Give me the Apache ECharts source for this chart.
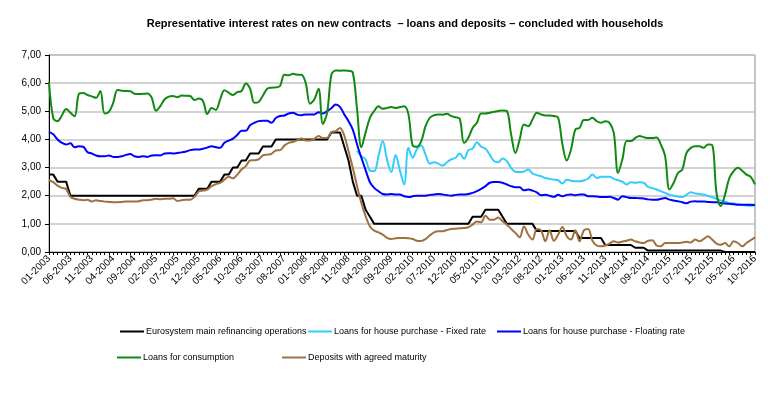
<!DOCTYPE html>
<html>
<head>
  <meta charset="utf-8">
  <title>Interest rates</title>
  <script src="https://cdn.jsdelivr.net/npm/echarts@6/dist/echarts.min.js"></script>
  <style>
    body { margin: 0; background: #fff; }
    #main { width: 775px; height: 399px; }
  </style>
</head>
<body>
  <div id="main"></div>
  <script>
    // monthly, 01-2003 .. 10-2016
    var months = [];
    for (var y = 2003; y <= 2016; y++) {
      for (var m = 1; m <= 12; m++) {
        if (y === 2016 && m > 10) break;
        months.push((m < 10 ? '0' + m : '' + m) + '-' + y);
      }
    }

    var mro = [
      2.75, 2.75, 2.50, 2.50, 2.50, 2.00, 2.00, 2.00, 2.00, 2.00, 2.00, 2.00,
      2.00, 2.00, 2.00, 2.00, 2.00, 2.00, 2.00, 2.00, 2.00, 2.00, 2.00, 2.00,
      2.00, 2.00, 2.00, 2.00, 2.00, 2.00, 2.00, 2.00, 2.00, 2.00, 2.00, 2.25,
      2.25, 2.25, 2.50, 2.50, 2.50, 2.75, 2.75, 3.00, 3.00, 3.25, 3.25, 3.50,
      3.50, 3.50, 3.75, 3.75, 3.75, 4.00, 4.00, 4.00, 4.00, 4.00, 4.00, 4.00,
      4.00, 4.00, 4.00, 4.00, 4.00, 4.00, 4.25, 4.25, 4.25, 3.75, 3.25, 2.50,
      2.00, 2.00, 1.50, 1.25, 1.00, 1.00, 1.00, 1.00, 1.00, 1.00, 1.00, 1.00,
      1.00, 1.00, 1.00, 1.00, 1.00, 1.00, 1.00, 1.00, 1.00, 1.00, 1.00, 1.00,
      1.00, 1.00, 1.00, 1.25, 1.25, 1.25, 1.50, 1.50, 1.50, 1.50, 1.25, 1.00,
      1.00, 1.00, 1.00, 1.00, 1.00, 1.00, 0.75, 0.75, 0.75, 0.75, 0.75, 0.75,
      0.75, 0.75, 0.75, 0.75, 0.50, 0.50, 0.50, 0.50, 0.50, 0.50, 0.25, 0.25,
      0.25, 0.25, 0.25, 0.25, 0.25, 0.15, 0.15, 0.15, 0.05, 0.05, 0.05, 0.05,
      0.05, 0.05, 0.05, 0.05, 0.05, 0.05, 0.05, 0.05, 0.05, 0.05, 0.05, 0.05,
      0.05, 0.05, 0.00, 0.00, 0.00, 0.00, 0.00, 0.00, 0.00, 0.00
    ];

    var houseFixed = [
      null, null, null, null, null, null, null, null, null, null, null, null,
      null, null, null, null, null, null, null, null, null, null, null, null,
      null, null, null, null, null, null, null, null, null, null, null, null,
      null, null, null, null, null, null, null, null, null, null, null, null,
      null, null, null, null, null, null, null, null, null, null, null, null,
      null, null, null, null, null, null, null, null, null, null, null, null,
      3.60, 3.40, 3.29, 2.89, 2.87, 3.40, 3.94, 3.29, 2.84, 3.45, 2.90, 2.40,
      3.70, 3.35, 3.65, 3.78, 3.46, 3.14, 3.19, 3.14, 3.07, 3.19, 3.29, 3.35,
      3.50, 3.31, 3.62, 3.67, 3.90, 3.74, 3.67, 3.46, 3.23, 3.19, 3.32, 3.23,
      2.99, 2.85, 2.84, 2.86, 2.93, 2.79, 2.73, 2.69, 2.63, 2.60, 2.57, 2.55,
      2.43, 2.57, 2.53, 2.51, 2.51, 2.54, 2.61, 2.75, 2.63, 2.67, 2.67, 2.67,
      2.60, 2.55, 2.50, 2.40, 2.48, 2.46, 2.48, 2.46, 2.31, 2.27, 2.22, 2.16,
      2.10, 2.04, 2.00, 1.97, 1.95, 2.04, 2.12, 2.08, 2.06, 2.04, 1.99, 1.95,
      1.89, 1.83, 1.79, 1.74, 1.72, 1.70, 1.67, 1.65, 1.64, 1.66
    ];

    var houseFloating = [
      4.27, 4.18, 4.00, 3.88, 3.82, 3.86, 3.72, 3.76, 3.74, 3.55, 3.50, 3.43,
      3.40, 3.40, 3.43, 3.38, 3.38, 3.40, 3.45, 3.48, 3.40, 3.38, 3.40, 3.38,
      3.43, 3.44, 3.43, 3.50, 3.51, 3.50, 3.52, 3.54, 3.57, 3.62, 3.64, 3.64,
      3.67, 3.71, 3.76, 3.72, 3.70, 3.88, 3.96, 4.03, 4.16, 4.31, 4.31, 4.50,
      4.59, 4.65, 4.66, 4.66, 4.59, 4.76, 4.83, 4.85, 4.92, 4.95, 4.88, 4.86,
      4.89, 4.89, 4.89, 4.97, 4.92, 5.01, 5.11, 5.24, 5.16, 4.89, 4.65, 4.35,
      3.82, 3.35, 2.91, 2.48, 2.28, 2.16, 2.06, 2.04, 2.06, 2.04, 2.04, 1.98,
      1.95, 1.98, 2.00, 2.00, 2.00, 2.03, 2.04, 2.06, 2.04, 2.02, 2.00, 2.03,
      2.04, 2.04, 2.06, 2.10, 2.16, 2.24, 2.34, 2.46, 2.49, 2.49, 2.46, 2.40,
      2.34, 2.30, 2.30, 2.19, 2.22, 2.18, 2.12, 2.02, 2.03, 2.00, 1.96, 2.03,
      1.98, 2.03, 2.04, 2.02, 2.04, 2.04, 1.98, 1.98, 1.97, 1.95, 1.95, 1.96,
      1.92, 1.86, 1.98, 1.95, 1.92, 1.92, 1.91, 1.90, 1.87, 1.86, 1.86, 1.89,
      1.92, 1.86, 1.83, 1.80, 1.77, 1.73, 1.79, 1.80, 1.79, 1.79, 1.78, 1.77,
      1.77, 1.74, 1.72, 1.71, 1.70, 1.68, 1.68, 1.68, 1.68, 1.67
    ];

    var consumption = [
      6.04, 4.75, 4.65, 4.85, 5.08, 4.95, 4.82, 5.62, 5.65, 5.58, 5.53, 5.48,
      5.72, 4.92, 4.98, 5.30, 5.76, 5.73, 5.72, 5.71, 5.62, 5.61, 5.62, 5.63,
      5.48, 5.02, 5.18, 5.42, 5.52, 5.54, 5.50, 5.56, 5.55, 5.54, 5.40, 5.45,
      5.36, 4.90, 5.12, 5.05, 5.42, 5.75, 5.66, 5.58, 5.68, 5.72, 5.99, 5.80,
      5.30, 5.33, 5.56, 5.80, 5.84, 5.85, 5.90, 6.30, 6.28, 6.33, 6.30, 6.30,
      6.00, 5.27, 5.42, 5.80, 4.55, 4.95, 6.30, 6.45, 6.44, 6.45, 6.44, 6.38,
      5.07, 3.72, 4.25, 4.77, 5.01, 5.18, 5.09, 5.12, 5.15, 5.12, 5.15, 5.18,
      4.90, 3.78, 3.74, 3.94, 4.47, 4.77, 4.86, 4.89, 4.88, 4.91, 4.83, 4.79,
      4.73, 3.88, 4.06, 4.41, 4.59, 4.92, 4.92, 4.95, 4.98, 5.01, 5.03, 5.01,
      4.18, 3.52, 4.00, 4.53, 4.47, 4.71, 4.95, 4.89, 4.85, 4.85, 4.83, 4.77,
      3.82, 3.25, 3.64, 4.35, 4.41, 4.69, 4.69, 4.77, 4.65, 4.59, 4.65, 4.59,
      4.23, 2.81, 3.29, 3.94, 3.94, 4.05, 4.12, 4.08, 4.05, 4.05, 4.07, 3.82,
      3.40, 2.22, 2.46, 2.81, 2.93, 3.52, 3.70, 3.76, 3.76, 3.70, 3.82, 3.80,
      2.10, 1.63, 2.04, 2.63, 2.87, 2.99, 2.89, 2.75, 2.67, 2.40
    ];

    var deposits = [
      2.55, 2.48, 2.36, 2.28, 2.24, 1.96, 1.89, 1.86, 1.84, 1.86, 1.79, 1.84,
      1.81, 1.79, 1.78, 1.77, 1.77, 1.78, 1.79, 1.79, 1.79, 1.80, 1.84, 1.84,
      1.86, 1.89, 1.87, 1.89, 1.89, 1.91, 1.81, 1.84, 1.86, 1.86, 1.96, 2.15,
      2.18, 2.22, 2.34, 2.41, 2.46, 2.57, 2.67, 2.62, 2.75, 2.93, 3.05, 3.25,
      3.26, 3.29, 3.43, 3.46, 3.49, 3.61, 3.62, 3.78, 3.88, 3.91, 3.97, 4.03,
      3.96, 3.96, 4.02, 4.12, 4.05, 4.05, 4.26, 4.29, 4.41, 4.14, 3.58, 2.99,
      2.34, 1.74, 1.27, 0.91, 0.76, 0.70, 0.62, 0.50, 0.46, 0.49, 0.50, 0.50,
      0.49, 0.46, 0.40, 0.39, 0.46, 0.59, 0.70, 0.74, 0.74, 0.78, 0.82, 0.83,
      0.84, 0.85, 0.88, 0.97, 1.08, 1.06, 1.29, 1.15, 1.15, 1.23, 1.09, 0.97,
      0.82, 0.68, 0.52, 0.91, 0.62, 0.44, 0.82, 0.77, 0.38, 0.77, 0.40, 0.62,
      0.89, 0.56, 0.44, 0.77, 0.38, 0.77, 0.82, 0.40, 0.23, 0.20, 0.23, 0.30,
      0.38, 0.34, 0.37, 0.40, 0.44, 0.38, 0.34, 0.32, 0.40, 0.42, 0.23, 0.20,
      0.32, 0.32, 0.32, 0.32, 0.34, 0.36, 0.34, 0.44, 0.38, 0.46, 0.56, 0.44,
      0.30, 0.26, 0.32, 0.20, 0.38, 0.32, 0.20, 0.32, 0.42, 0.52
    ];

    var names = [
      'Eurosystem main refinancing operations',
      'Loans for house purchase - Fixed rate',
      'Loans for house purchase - Floating rate',
      'Loans for consumption',
      'Deposits with agreed maturity'
    ];
    var colors = ['#000000', '#33ccff', '#0000ff', '#108a10', '#a0703f'];

    var myChart = echarts.init(document.getElementById('main'));

    function legendAt(i, left, top) {
      return {
        data: [names[i]],
        left: left,
        top: top,
        padding: 0,
        icon: 'rect',
        itemWidth: 24,
        itemHeight: 2,
        itemGap: 0,
        selectedMode: false,
        textStyle: { fontFamily: 'Liberation Sans, Arial', fontSize: 9, color: '#000', padding: [0, 0, 0, -3] }
      };
    }

    function line(i, data, smooth) {
      return {
        name: names[i],
        type: 'line',
        data: data,
        symbol: 'none',
        smooth: smooth,
        connectNulls: false,
        lineStyle: { color: colors[i], width: 2 },
        itemStyle: { color: colors[i] },
        animation: false
      };
    }

    var option = {
      animation: false,
      title: {
        text: 'Representative interest rates on new contracts  – loans and deposits – concluded with households',
        left: 400,
        top: 13,
        textAlign: 'center',
        textStyle: { fontFamily: 'Liberation Sans, Arial', fontSize: 11, fontWeight: 'bold', color: '#000' }
      },
      legend: [
        legendAt(0, 120, 327),
        legendAt(1, 308, 327),
        legendAt(2, 497, 327),
        legendAt(3, 117, 353),
        legendAt(4, 282, 353)
      ],
      grid: {
        left: 49, right: 20, top: 55, bottom: 147,
        show: true, borderColor: '#8c8c8c', borderWidth: 1
      },
      xAxis: {
        type: 'category',
        data: months,
        boundaryGap: false,
        axisLine: { lineStyle: { color: '#000', width: 1 } },
        axisTick: { interval: 0, length: 3, lineStyle: { color: '#000' } },
        axisLabel: {
          interval: 4, rotate: 45, margin: 5,
          fontFamily: 'Liberation Sans, Arial', fontSize: 10, color: '#000'
        },
        splitLine: { show: false }
      },
      yAxis: {
        type: 'value',
        min: 0, max: 7, interval: 1,
        axisLine: { show: true, lineStyle: { color: '#000', width: 1 } },
        axisTick: { show: true, length: 4, lineStyle: { color: '#000' } },
        axisLabel: {
          margin: 8,
          fontFamily: 'Liberation Sans, Arial', fontSize: 10, color: '#000',
          formatter: function (v) { return v.toFixed(2).replace('.', ','); }
        },
        splitLine: { lineStyle: { color: '#c4c4c4', width: 1.5 } }
      },
      series: [
        line(0, mro, false),
        line(1, houseFixed, 0.35),
        line(2, houseFloating, 0.35),
        line(3, consumption, 0.35),
        line(4, deposits, 0.35)
      ]
    };

    myChart.setOption(option);
  </script>
</body>
</html>
